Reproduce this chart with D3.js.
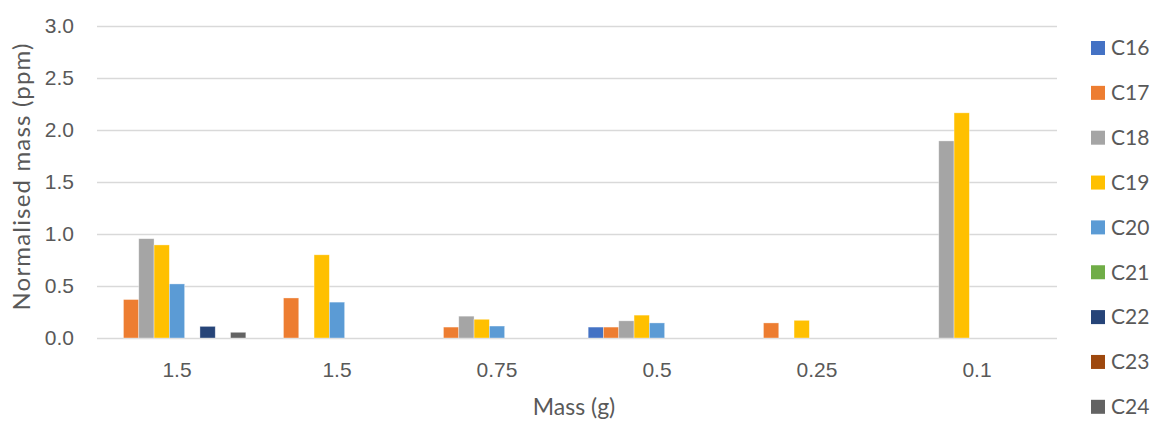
<!DOCTYPE html>
<html>
<head>
<meta charset="utf-8">
<script src="https://cdn.jsdelivr.net/npm/d3@7"></script>
<style>
  html, body { margin: 0; padding: 0; background: #fff; }
  svg { display: block; font-family: Lato, "Open Sans", sans-serif; }
</style>
</head>
<body>
<svg id="chart" width="1152" height="421"></svg>
<script>
// Sample masses (category axis) and homologue series
const groupLabels = ["1.5", "1.5", "0.75", "0.5", "0.25", "0.1"];
const seriesNames = ["C16", "C17", "C18", "C19", "C20", "C21", "C22", "C23", "C24"];
const seriesColors = ["#4472C4", "#ED7D31", "#A5A5A5", "#FFC000", "#5B9BD5", "#70AD47", "#264478", "#9E480E", "#636363"];

// Normalised mass (ppm) per series, one value per sample
const C16 = [0, 0, 0, 0.105, 0, 0];
const C17 = [0.37, 0.385, 0.105, 0.105, 0.145, 0];
const C18 = [0.955, 0, 0.21, 0.165, 0, 1.895];
const C19 = [0.895, 0.80, 0.18, 0.22, 0.17, 2.165];
const C20 = [0.52, 0.345, 0.115, 0.145, 0, 0];
const C21 = [0, 0, 0, 0, 0, 0];
const C22 = [0.112, 0, 0, 0, 0, 0];
const C23 = [0, 0, 0, 0, 0, 0];
const C24 = [0.055, 0, 0, 0, 0, 0];
const seriesValues = [C16, C17, C18, C19, C20, C21, C22, C23, C24];

const yTicks = [0, 0.5, 1.0, 1.5, 2.0, 2.5, 3.0];

const svg = d3.select("#chart");
const plot = { left: 97, right: 1057, top: 26, bottom: 338 };
const textColor = "#595959";
const gridColor = "#d9d9d9";
const fontSize = "21px";

const x0 = d3.scaleBand()
  .domain(d3.range(groupLabels.length))
  .range([plot.left, plot.right])
  .padding(0);

const x1 = d3.scaleBand()
  .domain(seriesNames)
  .range([0, x0.bandwidth()])
  .paddingInner(0)
  .paddingOuter(0.73);

const y = d3.scaleLinear().domain([0, 3]).range([plot.bottom, plot.top]);

// Gridlines
svg.append("g")
  .selectAll("line")
  .data(yTicks)
  .join("line")
  .attr("x1", plot.left)
  .attr("x2", plot.right)
  .attr("y1", d => Math.round(y(d)) + 0.5)
  .attr("y2", d => Math.round(y(d)) + 0.5)
  .attr("stroke", gridColor)
  .attr("stroke-width", 1.3);

// Y axis tick labels
const yAxis = d3.axisLeft(y).tickValues(yTicks).tickFormat(d3.format(".1f")).tickSize(0).tickPadding(23);
const gy = svg.append("g").attr("transform", `translate(${plot.left},0)`).call(yAxis);
gy.select(".domain").remove();
gy.selectAll("text").attr("fill", textColor).style("font-size", fontSize);

// Bars
const groups = svg.append("g")
  .selectAll("g")
  .data(groupLabels.map((lab, i) => i))
  .join("g")
  .attr("transform", i => `translate(${x0(i)},0)`);

groups.selectAll("rect")
  .data(i => seriesNames.map((s, k) => ({ s, k, v: seriesValues[k][i] })).filter(d => d.v > 0))
  .join("rect")
  .attr("x", d => x1(d.s))
  .attr("width", x1.bandwidth())
  .attr("y", d => y(d.v))
  .attr("height", d => y(0) - y(d.v))
  .attr("fill", d => seriesColors[d.k])
  .attr("stroke", "#ffffff")
  .attr("stroke-opacity", 0.5)
  .attr("stroke-width", 0.7);

// X axis labels
const xAxis = d3.axisBottom(x0).tickFormat(i => groupLabels[i]).tickSize(0);
const gx = svg.append("g").attr("transform", `translate(0,${plot.bottom})`).call(xAxis);
gx.select(".domain").remove();
gx.selectAll("text")
  .attr("y", 38.5)
  .attr("dy", null)
  .attr("fill", textColor)
  .style("font-size", fontSize);

// Axis titles
svg.append("text")
  .attr("x", 574)
  .attr("y", 415)
  .attr("text-anchor", "middle")
  .attr("fill", textColor)
  .style("font-size", "23px")
  .text("Mass (g)");

svg.append("text")
  .attr("transform", `translate(22,${177}) rotate(-90)`)
  .attr("text-anchor", "middle")
  .attr("dy", "0.35em")
  .attr("fill", textColor)
  .style("font-size", "24px")
  .attr("textLength", 267)
  .attr("lengthAdjust", "spacing")
  .text("Normalised mass (ppm)");

// Legend
const legend = svg.append("g")
  .selectAll("g")
  .data(seriesNames)
  .join("g")
  .attr("transform", (d, k) => `translate(1091,${48 + k * 44.85})`);

legend.append("rect")
  .attr("x", 0).attr("y", -7)
  .attr("width", 14).attr("height", 14)
  .attr("fill", (d, k) => seriesColors[k]);

legend.append("text")
  .attr("x", 20).attr("y", 0)
  .attr("dy", "0.35em")
  .attr("fill", textColor)
  .style("font-size", fontSize)
  .text(d => d);
</script>
</body>
</html>
